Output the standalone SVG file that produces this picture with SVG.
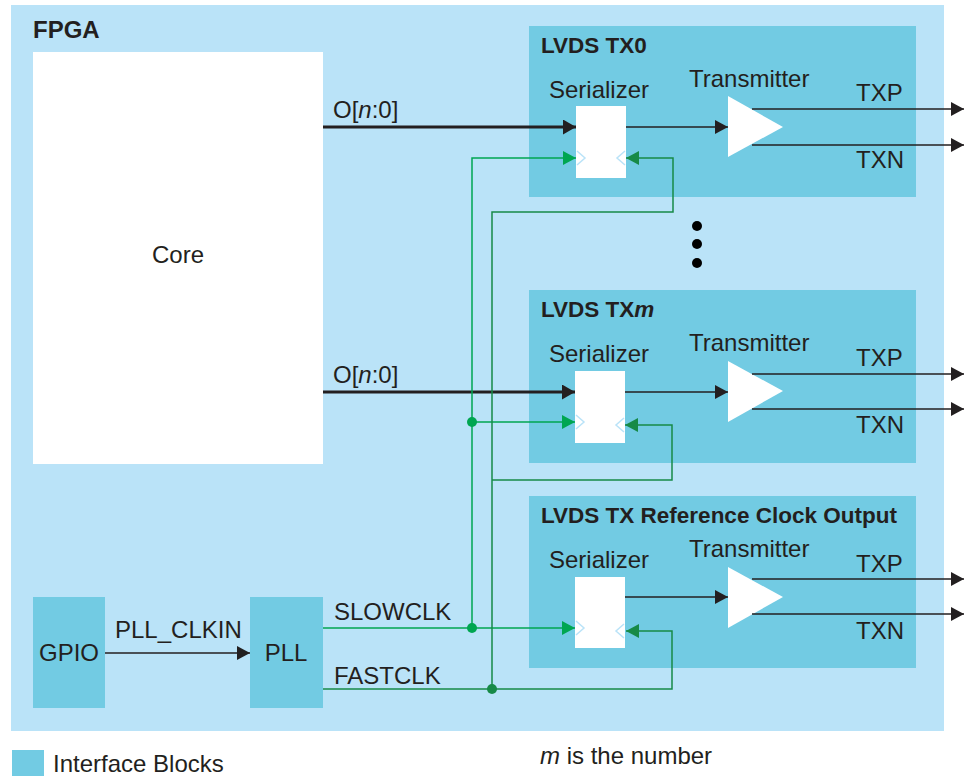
<svg xmlns="http://www.w3.org/2000/svg" width="964" height="776" viewBox="0 0 964 776">
<style>
text{font-family:"Liberation Sans",Arial,sans-serif;fill:#231f20}
.t{font-size:24px}
.b{font-weight:bold;font-size:22.5px}
.f{font-weight:bold;font-size:24px}
.blk{fill:#72cbe3}
.wh{fill:#ffffff}
.slow{stroke:#00a651;stroke-width:1.5;fill:none}
.fast{stroke:#178a47;stroke-width:1.5;fill:none}
.sig{stroke:#231f20;stroke-width:1.5;fill:none}
.bus{stroke:#231f20;stroke-width:3;fill:none}
.chev{stroke:#bae3f8;stroke-width:1.5;fill:none}
</style>
<defs>
<marker id="ab" markerWidth="13" markerHeight="14" refX="13" refY="7" orient="auto" markerUnits="userSpaceOnUse" viewBox="0 0 13 14"><path d="M0,0 L13,7 L0,14 z" fill="#231f20"/></marker>
<marker id="abb" markerWidth="13" markerHeight="15" refX="13" refY="7.5" orient="auto" markerUnits="userSpaceOnUse" viewBox="0 0 13 15"><path d="M0,0 L13,7.5 L0,15 z" fill="#231f20"/></marker>
<marker id="ag" markerWidth="13" markerHeight="14" refX="13" refY="7" orient="auto" markerUnits="userSpaceOnUse" viewBox="0 0 13 14"><path d="M0,0 L13,7 L0,14 z" fill="#00a651"/></marker>
<marker id="adg" markerWidth="13" markerHeight="14" refX="13" refY="7" orient="auto" markerUnits="userSpaceOnUse" viewBox="0 0 13 14"><path d="M0,0 L13,7 L0,14 z" fill="#178a47"/></marker>
</defs>
<rect width="964" height="776" fill="#ffffff"/>
<g id="fpga">
<rect x="11" y="5" width="933" height="726" fill="#bae3f8"/>
<text x="33" y="38" class="f">FPGA</text>
</g>
<g id="core">
<rect x="33" y="52" width="290" height="412" class="wh"/>
<text x="178" y="263" class="t" text-anchor="middle">Core</text>
</g>
<g id="gpio">
<rect x="33" y="597" width="72" height="111" class="blk"/>
<text x="69" y="661" class="t" text-anchor="middle">GPIO</text>
</g>
<g id="pll">
<rect x="250" y="597" width="73" height="111" class="blk"/>
<text x="286" y="661" class="t" text-anchor="middle">PLL</text>
</g>
<g id="tx0">
<rect x="529" y="26" width="387" height="171" class="blk"/>
<text x="541" y="53" class="b">LVDS TX0</text>
<text x="549" y="98" class="t">Serializer</text>
<rect x="576" y="106" width="50" height="72" class="wh"/>
<path d="M577,151 L585,158 L577,165 M625,151 L617,158 L625,165" class="chev"/>
<text x="689" y="87" class="t">Transmitter</text>
<path d="M728,96 L783,127 L728,157 z" class="wh"/>
<text x="856" y="101" class="t">TXP</text>
<text x="856" y="168" class="t">TXN</text>
</g>
<g id="txm">
<rect x="529" y="290" width="387" height="173" class="blk"/>
<text x="541" y="317" class="b">LVDS TX<tspan font-style="italic">m</tspan></text>
<text x="549" y="362" class="t">Serializer</text>
<rect x="575" y="371" width="50" height="72" class="wh"/>
<path d="M576,415 L584,422 L576,429 M624,418 L616,425 L624,432" class="chev"/>
<text x="689" y="351" class="t">Transmitter</text>
<path d="M728,361 L783,391 L728,422 z" class="wh"/>
<text x="856" y="366" class="t">TXP</text>
<text x="856" y="433" class="t">TXN</text>
</g>
<g id="txref">
<rect x="529" y="496" width="387" height="172" class="blk"/>
<text x="541" y="523" class="b">LVDS TX Reference Clock Output</text>
<text x="549" y="568" class="t">Serializer</text>
<rect x="575" y="577" width="50" height="71" class="wh"/>
<path d="M576,621 L584,628 L576,635 M624,624 L616,631 L624,638" class="chev"/>
<text x="689" y="557" class="t">Transmitter</text>
<path d="M728,567 L783,597 L728,628 z" class="wh"/>
<text x="856" y="572" class="t">TXP</text>
<text x="856" y="639" class="t">TXN</text>
</g>
<g id="ellipsis" fill="#000000">
<circle cx="697" cy="226" r="5"/>
<circle cx="697" cy="244" r="5"/>
<circle cx="697" cy="263" r="5"/>
</g>
<g id="connectors">
<path d="M323,127 L576,127" class="bus" marker-end="url(#abb)"/>
<path d="M323,392 L575,392" class="bus" marker-end="url(#abb)"/>
<text x="333" y="118" class="t">O[<tspan font-style="italic">n</tspan>:0]</text>
<text x="333" y="383" class="t">O[<tspan font-style="italic">n</tspan>:0]</text>
<path d="M626,127 L728,127" class="sig" marker-end="url(#ab)"/>
<path d="M625,392 L728,392" class="sig" marker-end="url(#ab)"/>
<path d="M625,597 L728,597" class="sig" marker-end="url(#ab)"/>
<path d="M752,109 L964,109" class="sig" marker-end="url(#ab)"/>
<path d="M752,145 L964,145" class="sig" marker-end="url(#ab)"/>
<path d="M752,374 L964,374" class="sig" marker-end="url(#ab)"/>
<path d="M752,409 L964,409" class="sig" marker-end="url(#ab)"/>
<path d="M752,579 L964,579" class="sig" marker-end="url(#ab)"/>
<path d="M752,614 L964,614" class="sig" marker-end="url(#ab)"/>
<path d="M105,653 L250,653" class="sig" marker-end="url(#ab)"/>
<text x="115" y="638" class="t">PLL_CLKIN</text>
<path d="M323,628 L575,628" class="slow" marker-end="url(#ag)"/>
<path d="M472,628 L472,158 L576,158" class="slow" marker-end="url(#ag)"/>
<path d="M472,422 L575,422" class="slow" marker-end="url(#ag)"/>
<circle cx="472" cy="422" r="5" fill="#00a651"/>
<circle cx="472" cy="628" r="5" fill="#00a651"/>
<text x="334" y="620" class="t">SLOWCLK</text>
<path d="M323,689 L672,689 L672,631 L626,631" class="fast" marker-end="url(#adg)"/>
<path d="M492,689 L492,212 L673,212 L673,158 L626,158" class="fast" marker-end="url(#adg)"/>
<path d="M492,480 L672,480 L672,425 L625,425" class="fast" marker-end="url(#adg)"/>
<circle cx="492" cy="689" r="5" fill="#178a47"/>
<text x="334" y="684" class="t">FASTCLK</text>
</g>
<g id="legend">
<rect x="12" y="750" width="32" height="26" class="blk"/>
<text x="53" y="772" class="t">Interface Blocks</text>
<text x="540" y="764" class="t"><tspan font-style="italic">m</tspan> is the number</text>
</g>
</svg>
